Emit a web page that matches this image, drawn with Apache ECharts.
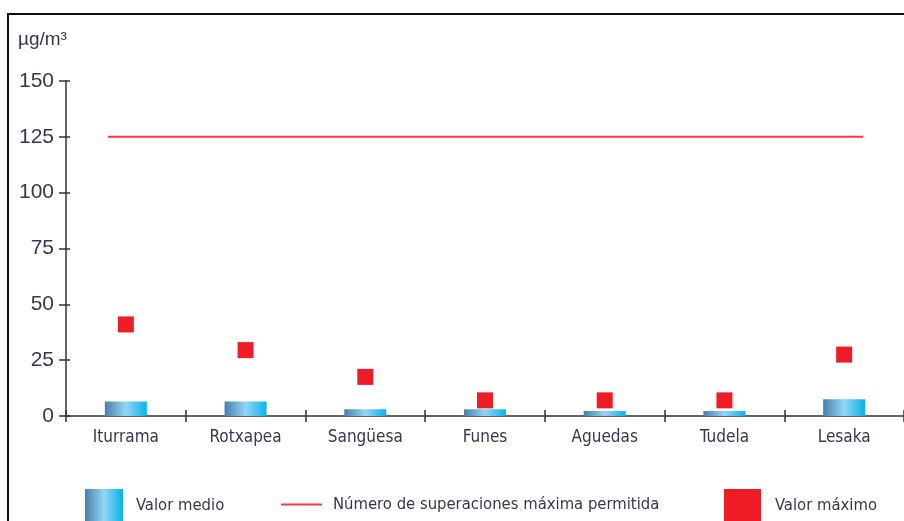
<!DOCTYPE html>
<html><head><meta charset="utf-8">
<script src="https://cdn.jsdelivr.net/npm/echarts@6/dist/echarts.min.js"></script>
<style>html,body{margin:0;padding:0;background:#fff}#c{width:904px;height:521px}</style>
</head><body><div id="c"></div>
<script>
const categories = ['Iturrama','Rotxapea','Sangüesa','Funes','Aguedas','Tudela','Lesaka'];
const valorMedio = [6.5, 6.5, 3.0, 3.0, 2.2, 2.2, 7.5];
const valorMaximo = [41, 29.5, 17.5, 7, 7, 7, 27.5];
const limitValue = 125;
const limitSpan = [0.35, 6.66];
const yTicks = [0, 25, 50, 75, 100, 125, 150];

const narrow = '"DejaVu Sans Condensed", "Liberation Sans Narrow", sans-serif';
const txt = '#3b3550';
const barGrad = new echarts.graphic.LinearGradient(0,0,1,0,[
  {offset:0,color:'#4680aa'},{offset:0.5,color:'#92d6f5'},{offset:1,color:'#08b2ea'}]);

const chart = echarts.init(document.getElementById('c'), null, {renderer:'canvas'});
chart.setOption({
  animation:false,
  backgroundColor:'#fff',
  graphic:[
    {type:'rect', shape:{x:8,y:14,width:920,height:540}, style:{fill:'none',stroke:'#111',lineWidth:2}},
    {type:'text', left:18, top:30, style:{text:'µg/m³', font:'19px "Liberation Sans", sans-serif', fill:txt}}
  ],
  grid:{left:66, right:0, top:81, bottom:105},
  xAxis:[
    {type:'category', data:categories, position:'bottom',
     axisLine:{lineStyle:{color:'#333',width:1.5}},
     axisTick:{show:true, length:6, lineStyle:{color:'#333',width:1.5}},
     axisLabel:{color:txt, fontFamily:narrow, fontSize:17, margin:13}},
    {type:'category', data:categories, position:'bottom',
     axisLine:{show:false},
     axisTick:{show:true, inside:true, length:6, lineStyle:{color:'#333',width:1.5}},
     axisLabel:{show:false}},
    {type:'value', min:0, max:7, show:false}
  ],
  yAxis:[
    {type:'value', min:0, max:150, interval:25,
     axisLine:{show:true, lineStyle:{color:'#333',width:1.5}},
     axisTick:{show:true, length:7, lineStyle:{color:'#333',width:1.5}},
     splitLine:{show:false},
     axisLabel:{color:txt, fontFamily:'"Liberation Sans", sans-serif', fontSize:21, margin:12,
       formatter:v=>yTicks.includes(v)?String(v):''}},
    {type:'value', min:0, max:150, interval:25, position:'left',
     axisLine:{show:false},
     axisTick:{show:true, inside:true, length:4, lineStyle:{color:'#333',width:1.5}},
     splitLine:{show:false}, axisLabel:{show:false}}
  ],
  legend:[
    {left:85, top:489, padding:0, itemWidth:38, itemHeight:33, icon:'rect', data:['Valor medio'],
     textStyle:{color:txt, fontFamily:narrow, fontSize:16.5, padding:[0,0,0,8]}},
    {left:281, top:496, padding:0, itemWidth:41, itemHeight:2, icon:'rect', data:['Número de superaciones máxima permitida'],
     textStyle:{color:txt, fontFamily:narrow, fontSize:16.5, padding:[0,0,0,6]}},
    {left:724, top:489, padding:0, itemWidth:37, itemHeight:33, icon:'rect', data:['Valor máximo'],
     textStyle:{color:txt, fontFamily:narrow, fontSize:16.5, padding:[0,0,0,9]}}
  ],
  series:[
    {name:'Valor medio', type:'bar', data:valorMedio, barWidth:42,
     itemStyle:{color:barGrad}},
    {name:'Número de superaciones máxima permitida', type:'line', xAxisIndex:2,
     data:[[limitSpan[0],limitValue],[limitSpan[1],limitValue]],
     symbol:'none', lineStyle:{color:'#f03a48', width:2}, itemStyle:{color:'#f03a48'}},
    {name:'Valor máximo', type:'scatter', data:valorMaximo, symbol:'rect', symbolSize:16,
     itemStyle:{color:'#ee1c25', opacity:1}}
  ]
});
</script></body></html>
